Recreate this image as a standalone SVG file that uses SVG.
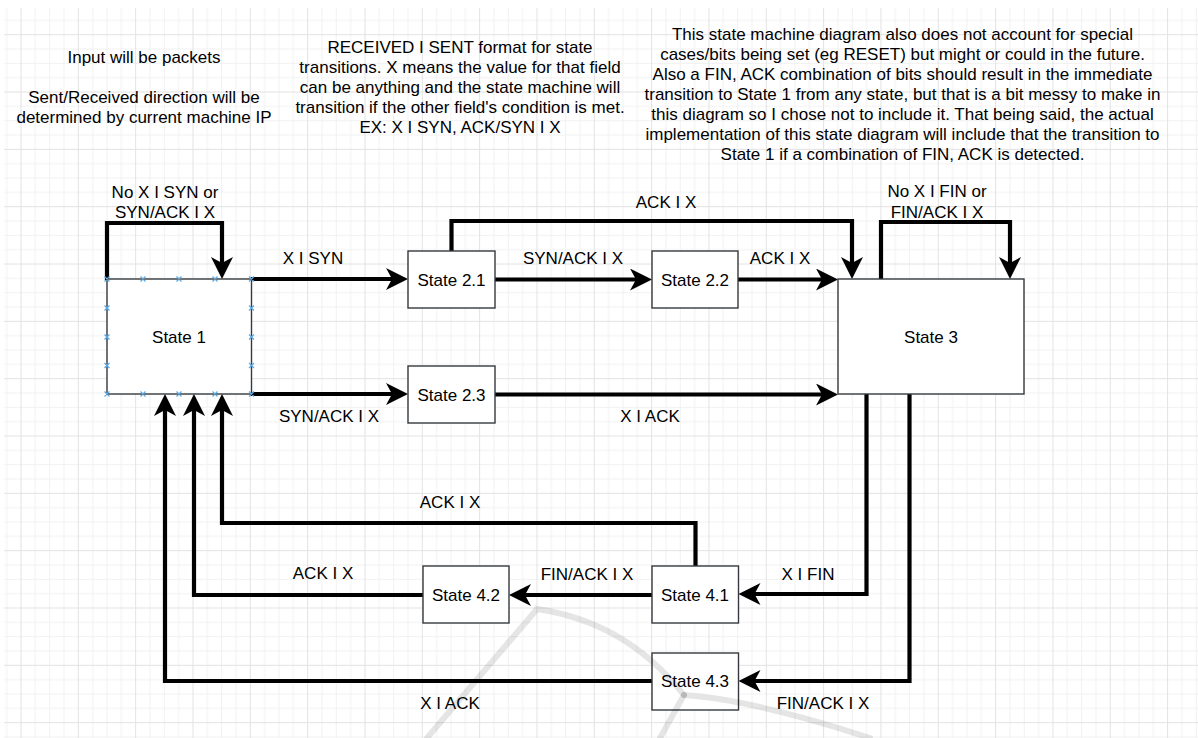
<svg xmlns="http://www.w3.org/2000/svg" width="1198" height="738" viewBox="0 0 1198 738">
<defs>
<pattern id="grid" x="20.5" y="34.2" width="57.33" height="57.33" patternUnits="userSpaceOnUse">
<path d="M14.83,0V57.33M29.17,0V57.33M43.5,0V57.33M0,14.83H57.33M0,29.17H57.33M0,43.5H57.33" stroke="#f1f1f1" stroke-width="1" fill="none"/>
<path d="M0.5,0V57.33M0,0.5H57.33" stroke="#e2e2e2" stroke-width="1" fill="none"/>
</pattern>
<marker id="arr" viewBox="0 0 22 22" markerWidth="22" markerHeight="22" refX="8" refY="11" orient="auto" markerUnits="userSpaceOnUse">
<path d="M0,0 L22,11 L0,22 L6,11 Z" fill="#000"/>
</marker>
</defs>
<style>
.box{fill:#fff;stroke:#36393d;stroke-width:1.4}
.t{font-family:"Liberation Sans",Arial,Helvetica,sans-serif;font-size:17px;fill:#000;text-anchor:middle}
.e{fill:none;stroke:#000;stroke-width:4.2;marker-end:url(#arr)}
.pt{stroke:#5aa9e6;stroke-width:1.2}
</style>
<rect x="0" y="0" width="1198" height="738" fill="#fff"/>
<rect x="4" y="8" width="1194" height="730" fill="url(#grid)"/>

<g id="notes">
<text class="t" x="144" y="63">Input will be packets</text>
<text class="t" x="144" y="103">Sent/Received direction will be</text>
<text class="t" x="144" y="123">determined by current machine IP</text>
<text class="t" x="460" y="53">RECEIVED I SENT format for state</text>
<text class="t" x="460" y="73">transitions. X means the value for that field</text>
<text class="t" x="460" y="93">can be anything and the state machine will</text>
<text class="t" x="460" y="113">transition if the other field's condition is met.</text>
<text class="t" x="460" y="133">EX: X I SYN, ACK/SYN I X</text>
<text class="t" x="902.5" y="39.5">This state machine diagram also does not account for special</text>
<text class="t" x="902.5" y="59.5">cases/bits being set (eg RESET) but might or could in the future.</text>
<text class="t" x="902.5" y="79.5">Also a FIN, ACK combination of bits should result in the immediate</text>
<text class="t" x="902.5" y="99.5">transition to State 1 from any state, but that is a bit messy to make in</text>
<text class="t" x="902.5" y="119.5">this diagram so I chose not to include it. That being said, the actual</text>
<text class="t" x="902.5" y="139.5">implementation of this state diagram will include that the transition to</text>
<text class="t" x="902.5" y="159.5">State 1 if a combination of FIN, ACK is detected.</text>
</g>

<g id="connectors">
<path class="e" d="M107,280 V223 H222 V265"/>
<path class="e" d="M251,279 H394"/>
<path class="e" d="M495,279.5 H638"/>
<path class="e" d="M738,279.5 H824"/>
<path class="e" d="M451.5,251 V221 H852 V265"/>
<path class="e" d="M881,279 V222 H1010 V265"/>
<path class="e" d="M251,394 H394"/>
<path class="e" d="M495,394.5 H824"/>
<path class="e" d="M866.5,394 V594 H752.5"/>
<path class="e" d="M909.5,394 V681 H752.5"/>
<path class="e" d="M652,595 H523"/>
<path class="e" d="M695.5,566 V523 H222 V408"/>
<path class="e" d="M423,595 H194 V408"/>
<path class="e" d="M652,681 H165 V408"/>
<g id="edge-labels">
<text class="t" x="165" y="198">No X I SYN or</text>
<text class="t" x="165" y="218">SYN/ACK I X</text>
<text class="t" x="313" y="264">X I SYN</text>
<text class="t" x="573" y="264">SYN/ACK I X</text>
<text class="t" x="780" y="264">ACK I X</text>
<text class="t" x="666" y="208">ACK I X</text>
<text class="t" x="937" y="197">No X I FIN or</text>
<text class="t" x="937" y="218">FIN/ACK I X</text>
<text class="t" x="329" y="422">SYN/ACK I X</text>
<text class="t" x="650" y="422">X I ACK</text>
<text class="t" x="450" y="508">ACK I X</text>
<text class="t" x="323" y="579">ACK I X</text>
<text class="t" x="587" y="580">FIN/ACK I X</text>
<text class="t" x="808" y="580">X I FIN</text>
<text class="t" x="450" y="709">X I ACK</text>
<text class="t" x="823" y="709">FIN/ACK I X</text>
</g>
</g>

<g id="state1">
<rect class="box" x="107" y="279" width="144.5" height="115"/>
<text class="t" x="179" y="343">State 1</text>
<g class="pt">
<path d="M104.5,276.5l5,5m0,-5l-5,5M140.5,276.5l5,5m0,-5l-5,5M176.5,276.5l5,5m0,-5l-5,5M212.5,276.5l5,5m0,-5l-5,5M249,276.5l5,5m0,-5l-5,5"/>
<path d="M104.5,391.5l5,5m0,-5l-5,5M140.5,391.5l5,5m0,-5l-5,5M176.5,391.5l5,5m0,-5l-5,5M212.5,391.5l5,5m0,-5l-5,5M249,391.5l5,5m0,-5l-5,5"/>
<path d="M104.5,305.5l5,5m0,-5l-5,5M104.5,334.5l5,5m0,-5l-5,5M104.5,363l5,5m0,-5l-5,5"/>
<path d="M249,305.5l5,5m0,-5l-5,5M249,334.5l5,5m0,-5l-5,5M249,363l5,5m0,-5l-5,5"/>
</g>
</g>
<g id="state21"><rect class="box" x="408" y="251" width="87" height="57"/><text class="t" x="451.5" y="285.5">State 2.1</text></g>
<g id="state22"><rect class="box" x="652" y="251" width="86" height="57"/><text class="t" x="695" y="285.5">State 2.2</text></g>
<g id="state23"><rect class="box" x="408" y="366" width="87" height="57"/><text class="t" x="451.5" y="400.5">State 2.3</text></g>
<g id="state3"><rect class="box" x="838" y="279" width="186" height="115"/><text class="t" x="931" y="343">State 3</text></g>
<g id="state41"><rect class="box" x="652" y="566" width="86.5" height="57"/><text class="t" x="695" y="601">State 4.1</text></g>
<g id="state42"><rect class="box" x="423" y="566" width="86" height="57"/><text class="t" x="466" y="601">State 4.2</text></g>
<g id="state43"><rect class="box" x="652" y="653" width="86.5" height="57"/><text class="t" x="695" y="687">State 4.3</text></g>

<g id="watermark" fill="none" stroke="#000" stroke-opacity="0.1" stroke-width="6" stroke-linecap="round">
<path d="M427,738 L537,609 C590,617 640,640 684,695"/>
<path d="M684,695 C730,698 790,712 870,738"/>
<path d="M684,695 L660,738"/>
</g>
</svg>
